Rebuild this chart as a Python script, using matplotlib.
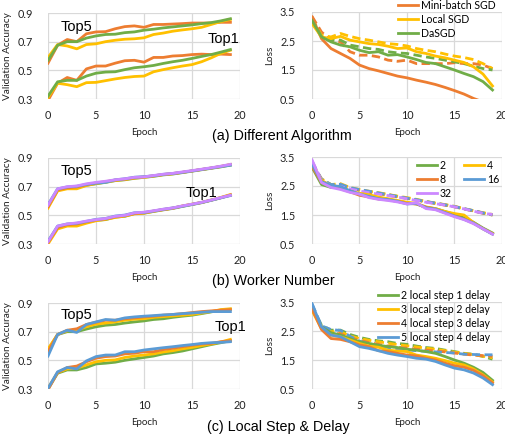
import matplotlib
matplotlib.use("Agg")
import matplotlib.pyplot as plt
from matplotlib.lines import Line2D

epochs = list(range(20))

# ---------- (a) Different Algorithm ----------
a_names = ["Mini-batch SGD", "Local SGD", "DaSGD"]
a_top5 = {
    "Mini-batch SGD": [0.55, 0.675, 0.715, 0.70, 0.755, 0.768, 0.77, 0.79, 0.805, 0.81, 0.80, 0.82, 0.82, 0.823, 0.826, 0.83, 0.83, 0.83, 0.835, 0.835],
    "Local SGD": [0.59, 0.68, 0.67, 0.65, 0.68, 0.685, 0.70, 0.71, 0.717, 0.72, 0.727, 0.75, 0.76, 0.773, 0.782, 0.79, 0.80, 0.82, 0.84, 0.855],
    "DaSGD": [0.57, 0.675, 0.70, 0.70, 0.725, 0.74, 0.75, 0.752, 0.763, 0.768, 0.78, 0.787, 0.796, 0.803, 0.81, 0.817, 0.826, 0.833, 0.845, 0.86],
}
a_top1 = {
    "Mini-batch SGD": [0.29, 0.41, 0.45, 0.43, 0.51, 0.53, 0.53, 0.55, 0.567, 0.57, 0.557, 0.59, 0.59, 0.60, 0.603, 0.61, 0.613, 0.61, 0.613, 0.61],
    "Local SGD": [0.31, 0.41, 0.40, 0.386, 0.414, 0.416, 0.428, 0.44, 0.45, 0.457, 0.46, 0.49, 0.505, 0.518, 0.53, 0.54, 0.56, 0.587, 0.618, 0.64],
    "DaSGD": [0.32, 0.42, 0.43, 0.43, 0.46, 0.48, 0.488, 0.49, 0.505, 0.518, 0.525, 0.534, 0.548, 0.56, 0.57, 0.583, 0.597, 0.61, 0.627, 0.645],
}
a_train = {
    "Mini-batch SGD": [3.33, 2.58, 2.24, 2.07, 1.90, 1.67, 1.55, 1.47, 1.38, 1.29, 1.23, 1.15, 1.08, 1.00, 0.90, 0.79, 0.67, 0.52, 0.40, 0.30],
    "Local SGD": [3.10, 2.64, 2.58, 2.66, 2.53, 2.47, 2.41, 2.38, 2.32, 2.24, 2.26, 2.13, 2.07, 1.98, 1.92, 1.84, 1.76, 1.61, 1.36, 0.95],
    "DaSGD": [3.21, 2.64, 2.47, 2.36, 2.30, 2.18, 2.10, 2.13, 2.01, 2.03, 1.95, 1.86, 1.76, 1.72, 1.61, 1.50, 1.38, 1.27, 1.10, 0.81],
}
a_val = {
    "Mini-batch SGD": [3.35, 2.81, 2.53, 2.47, 2.13, 2.01, 2.01, 1.95, 1.84, 1.80, 1.84, 1.72, 1.72, 1.72, 1.72, 1.75, 1.72, 1.72, 1.67, 1.55],
    "Local SGD": [3.27, 2.70, 2.64, 2.76, 2.66, 2.58, 2.53, 2.47, 2.41, 2.38, 2.33, 2.24, 2.18, 2.13, 2.05, 1.98, 1.93, 1.86, 1.72, 1.55],
    "DaSGD": [3.27, 2.64, 2.55, 2.53, 2.36, 2.30, 2.24, 2.21, 2.13, 2.09, 2.07, 2.01, 1.95, 1.90, 1.84, 1.78, 1.72, 1.63, 1.55, 1.50],
}
a_colors = {"Mini-batch SGD": "#ED7D31", "Local SGD": "#FFC000", "DaSGD": "#70AD47"}

# ---------- (b) Worker Number ----------
b_names = ["2", "4", "8", "16", "32"]
b_top5 = {
    "2": [0.56, 0.675, 0.69, 0.695, 0.71, 0.72, 0.73, 0.742, 0.748, 0.758, 0.765, 0.772, 0.782, 0.788, 0.798, 0.808, 0.818, 0.828, 0.838, 0.85],
    "4": [0.55, 0.67, 0.685, 0.685, 0.708, 0.722, 0.732, 0.743, 0.75, 0.76, 0.765, 0.774, 0.784, 0.79, 0.80, 0.81, 0.82, 0.83, 0.84, 0.855],
    "8": [0.56, 0.678, 0.692, 0.698, 0.714, 0.726, 0.735, 0.746, 0.752, 0.762, 0.768, 0.776, 0.785, 0.792, 0.80, 0.81, 0.82, 0.83, 0.842, 0.853],
    "16": [0.575, 0.685, 0.698, 0.703, 0.716, 0.725, 0.73, 0.748, 0.755, 0.766, 0.77, 0.776, 0.786, 0.792, 0.80, 0.81, 0.82, 0.83, 0.84, 0.85],
    "32": [0.57, 0.685, 0.70, 0.705, 0.72, 0.73, 0.738, 0.748, 0.755, 0.765, 0.768, 0.778, 0.787, 0.793, 0.803, 0.812, 0.822, 0.832, 0.843, 0.856],
}
b_top1 = {
    "2": [0.31, 0.42, 0.435, 0.44, 0.452, 0.465, 0.47, 0.488, 0.493, 0.512, 0.515, 0.527, 0.538, 0.548, 0.562, 0.575, 0.588, 0.605, 0.622, 0.64],
    "4": [0.30, 0.405, 0.425, 0.425, 0.445, 0.462, 0.472, 0.485, 0.495, 0.51, 0.515, 0.528, 0.54, 0.55, 0.565, 0.578, 0.59, 0.607, 0.625, 0.645],
    "8": [0.31, 0.415, 0.435, 0.44, 0.455, 0.468, 0.475, 0.49, 0.498, 0.513, 0.518, 0.53, 0.54, 0.55, 0.565, 0.577, 0.59, 0.606, 0.623, 0.642],
    "16": [0.32, 0.425, 0.44, 0.445, 0.458, 0.472, 0.478, 0.495, 0.502, 0.518, 0.52, 0.53, 0.542, 0.552, 0.563, 0.576, 0.59, 0.605, 0.622, 0.638],
    "32": [0.315, 0.425, 0.44, 0.447, 0.46, 0.47, 0.478, 0.493, 0.50, 0.517, 0.522, 0.532, 0.543, 0.552, 0.566, 0.578, 0.591, 0.607, 0.624, 0.64],
}
b_train = {
    "2": [3.15, 2.55, 2.45, 2.45, 2.33, 2.22, 2.16, 2.08, 2.04, 1.98, 1.92, 1.88, 1.76, 1.72, 1.62, 1.52, 1.40, 1.25, 1.05, 0.88],
    "4": [3.20, 2.70, 2.50, 2.40, 2.30, 2.25, 2.20, 2.12, 2.06, 2.00, 1.94, 1.90, 1.78, 1.72, 1.62, 1.55, 1.50, 1.24, 1.02, 0.86],
    "8": [3.18, 2.62, 2.48, 2.42, 2.30, 2.18, 2.12, 2.05, 2.02, 1.97, 1.90, 1.88, 1.77, 1.70, 1.58, 1.47, 1.36, 1.22, 1.03, 0.85],
    "16": [3.25, 2.65, 2.52, 2.48, 2.33, 2.22, 2.14, 2.06, 2.03, 1.97, 1.88, 1.90, 1.75, 1.70, 1.58, 1.46, 1.35, 1.22, 1.02, 0.84],
    "32": [3.40, 2.62, 2.45, 2.38, 2.28, 2.22, 2.10, 2.04, 2.00, 1.95, 1.88, 1.92, 1.72, 1.68, 1.56, 1.44, 1.34, 1.20, 1.02, 0.84],
}
b_val = {
    "2": [3.30, 2.72, 2.55, 2.52, 2.42, 2.36, 2.30, 2.25, 2.20, 2.14, 2.08, 2.02, 1.96, 1.90, 1.85, 1.79, 1.71, 1.64, 1.57, 1.50],
    "4": [3.28, 2.75, 2.55, 2.58, 2.45, 2.38, 2.32, 2.27, 2.21, 2.15, 2.10, 2.04, 1.97, 1.91, 1.86, 1.80, 1.72, 1.65, 1.58, 1.52],
    "8": [3.30, 2.72, 2.52, 2.53, 2.42, 2.35, 2.28, 2.24, 2.18, 2.12, 2.07, 2.01, 1.95, 1.90, 1.84, 1.78, 1.71, 1.64, 1.56, 1.50],
    "16": [3.32, 2.74, 2.55, 2.56, 2.44, 2.38, 2.32, 2.26, 2.20, 2.14, 2.08, 2.03, 1.96, 1.91, 1.85, 1.79, 1.72, 1.65, 1.57, 1.51],
    "32": [3.38, 2.70, 2.50, 2.48, 2.40, 2.33, 2.27, 2.22, 2.17, 2.12, 2.06, 2.00, 1.94, 1.89, 1.84, 1.78, 1.71, 1.63, 1.56, 1.52],
}
b_colors = {"2": "#70AD47", "4": "#FFC000", "8": "#ED7D31", "16": "#5B9BD5", "32": "#CC88FF"}

# ---------- (c) Local Step & Delay ----------
c_names = ["2 local step 1 delay", "3 local step 2 delay", "4 local step 3 delay", "5 local step 4 delay"]
c_top5 = {
    c_names[0]: [0.57, 0.68, 0.70, 0.70, 0.718, 0.734, 0.745, 0.75, 0.76, 0.768, 0.775, 0.785, 0.79, 0.80, 0.808, 0.815, 0.826, 0.838, 0.85, 0.856],
    c_names[1]: [0.58, 0.68, 0.706, 0.71, 0.734, 0.752, 0.76, 0.768, 0.78, 0.787, 0.79, 0.80, 0.805, 0.81, 0.815, 0.82, 0.83, 0.84, 0.854, 0.86],
    c_names[2]: [0.56, 0.68, 0.71, 0.72, 0.75, 0.766, 0.78, 0.78, 0.79, 0.796, 0.803, 0.808, 0.815, 0.82, 0.826, 0.833, 0.84, 0.845, 0.85, 0.854],
    c_names[3]: [0.53, 0.68, 0.71, 0.695, 0.75, 0.768, 0.785, 0.78, 0.796, 0.803, 0.808, 0.812, 0.817, 0.82, 0.826, 0.83, 0.835, 0.84, 0.84, 0.84],
}
c_top1 = {
    c_names[0]: [0.30, 0.41, 0.433, 0.433, 0.45, 0.475, 0.48, 0.487, 0.50, 0.51, 0.52, 0.53, 0.545, 0.554, 0.565, 0.58, 0.595, 0.61, 0.623, 0.637],
    c_names[1]: [0.305, 0.415, 0.44, 0.445, 0.468, 0.49, 0.50, 0.503, 0.52, 0.53, 0.537, 0.545, 0.558, 0.567, 0.58, 0.59, 0.603, 0.614, 0.628, 0.646],
    c_names[2]: [0.295, 0.415, 0.45, 0.46, 0.49, 0.515, 0.526, 0.53, 0.545, 0.55, 0.56, 0.56, 0.575, 0.584, 0.595, 0.605, 0.614, 0.618, 0.63, 0.637],
    c_names[3]: [0.305, 0.42, 0.45, 0.44, 0.496, 0.526, 0.537, 0.537, 0.56, 0.56, 0.572, 0.58, 0.588, 0.595, 0.603, 0.61, 0.618, 0.623, 0.625, 0.63],
}
c_train = {
    c_names[0]: [3.33, 2.64, 2.44, 2.36, 2.24, 2.13, 2.07, 2.01, 1.96, 1.93, 1.87, 1.84, 1.79, 1.73, 1.62, 1.50, 1.39, 1.25, 1.07, 0.80],
    c_names[1]: [3.21, 2.58, 2.36, 2.30, 2.19, 2.07, 1.98, 1.94, 1.84, 1.81, 1.79, 1.67, 1.62, 1.56, 1.48, 1.39, 1.33, 1.19, 0.99, 0.74],
    c_names[2]: [3.27, 2.55, 2.24, 2.21, 2.13, 2.02, 1.96, 1.82, 1.79, 1.73, 1.67, 1.64, 1.56, 1.50, 1.39, 1.30, 1.25, 1.14, 0.96, 0.71],
    c_names[3]: [3.44, 2.64, 2.36, 2.30, 2.13, 1.96, 1.90, 1.82, 1.73, 1.67, 1.62, 1.56, 1.53, 1.45, 1.33, 1.22, 1.16, 1.05, 0.88, 0.65],
}
c_val = {
    c_names[0]: [3.33, 2.70, 2.53, 2.53, 2.38, 2.28, 2.21, 2.16, 2.13, 2.07, 2.04, 1.98, 1.93, 1.90, 1.84, 1.79, 1.73, 1.70, 1.62, 1.53],
    c_names[1]: [3.25, 2.65, 2.48, 2.47, 2.33, 2.24, 2.18, 2.13, 2.08, 2.03, 1.99, 1.95, 1.91, 1.87, 1.82, 1.77, 1.73, 1.68, 1.63, 1.58],
    c_names[2]: [3.27, 2.60, 2.43, 2.40, 2.27, 2.18, 2.10, 2.04, 1.98, 1.94, 1.91, 1.87, 1.84, 1.81, 1.78, 1.74, 1.70, 1.67, 1.65, 1.63],
    c_names[3]: [3.44, 2.68, 2.55, 2.52, 2.32, 2.15, 2.06, 1.99, 1.93, 1.89, 1.85, 1.82, 1.80, 1.78, 1.76, 1.74, 1.70, 1.69, 1.68, 1.68],
}
c_colors = dict(zip(c_names, ["#70AD47", "#FFC000", "#ED7D31", "#5B9BD5"]))

acc_ticks = [0.3, 0.5, 0.7, 0.9]
loss_ticks = [0.5, 1.5, 2.5, 3.5]
x_ticks = [0, 5, 10, 15, 20]
captions = ["(a) Different Algorithm", "(b) Worker Number", "(c) Local Step & Delay"]

W, H = 506, 436
fig = plt.figure(figsize=(W / 100, H / 100), dpi=100)

TICKF = "Lato"
LW = 2.0
DASH = (3.0, 1.6)


def px_axes(x0, y0, x1, y1):
    return fig.add_axes([x0 / W, 1 - y1 / H, (x1 - x0) / W, (y1 - y0) / H])


def style(ax, ylim, yticks, ylabel, ypad):
    ax.set_xlim(0, 20)
    ax.set_ylim(*ylim)
    ax.set_xticks(x_ticks)
    ax.set_yticks(yticks)
    ax.set_yticklabels([f"{t:.1f}" for t in yticks])
    ax.grid(True, color="#D9D9D9", lw=0.9)
    ax.set_axisbelow(True)
    for s in ax.spines.values():
        s.set_visible(False)
    ax.tick_params(length=0, labelsize=7.8, pad=ypad, labelcolor="#222222")
    ax.tick_params(axis="x", pad=8)
    for lab in ax.get_xticklabels() + ax.get_yticklabels():
        lab.set_fontfamily(TICKF)
    ax.set_xlabel("Epoch", fontsize=7, fontfamily=TICKF, labelpad=5, color="#222222")
    ax.set_ylabel(ylabel, fontsize=7.2, fontfamily=TICKF, labelpad=4, color="#222222")


rows = [(13, 99), (158, 244), (303, 389)]
acc_sets = [(a_names, a_top5, a_top1, a_colors), (b_names, b_top5, b_top1, b_colors), (c_names, c_top5, c_top1, c_colors)]
loss_sets = [(a_names, a_train, a_val, a_colors), (b_names, b_train, b_val, b_colors), (c_names, c_train, c_val, c_colors)]
top5_pos = [(3.0, 0.80), (3.0, 0.81), (3.0, 0.815)]
top1_pos = [(18.3, 0.72), (16.0, 0.655), (19.0, 0.735)]
cap_pos = [(212, 136), (212, 281), (207, 427)]

for r, (yt, yb) in enumerate(rows):
    axl = px_axes(48, yt, 240, yb)
    names, t5, t1, cols = acc_sets[r]
    for n in names:
        axl.plot(epochs, t5[n], color=cols[n], lw=LW, solid_joinstyle="round")
        axl.plot(epochs, t1[n], color=cols[n], lw=LW, solid_joinstyle="round")
    style(axl, (0.3, 0.9), acc_ticks, "Validation Accuracy", 11)
    axl.text(*top5_pos[r], "Top5", fontsize=10.5, fontfamily="Liberation Sans", ha="center", va="center")
    axl.text(*top1_pos[r], "Top1", fontsize=10.5, fontfamily="Liberation Sans", ha="center", va="center")

    axr = px_axes(312, yt - 1, 502, yb)
    names, tr, va, cols = loss_sets[r]
    for n in names:
        axr.plot(epochs, va[n], color=cols[n], lw=LW, dashes=DASH)
    for n in names:
        axr.plot(epochs, tr[n], color=cols[n], lw=LW, solid_joinstyle="round")
    style(axr, (0.5, 3.5), loss_ticks, "Loss", 12)

    fig.text(cap_pos[r][0] / W, 1 - cap_pos[r][1] / H, captions[r], fontsize=10.3,
             fontfamily="Liberation Sans", ha="left", va="center")


def add_legend(names, cols, x, y, ncol=1, order=None):
    handles = [Line2D([], [], color=cols[n], lw=LW) for n in names]
    labels = list(names)
    if order is not None:
        handles = [handles[i] for i in order]
        labels = [labels[i] for i in order]
    fig.legend(handles, labels, loc="upper left", bbox_to_anchor=(x / W, 1 - y / H),
               frameon=False, ncol=ncol, prop={"family": TICKF, "size": 7.6},
               handlelength=1.9, handletextpad=0.25, labelspacing=0.27,
               borderpad=0, borderaxespad=0, columnspacing=1.2)


add_legend(a_names, a_colors, 398, 0)
add_legend(b_names, b_colors, 417, 160, ncol=2, order=[0, 2, 4, 1, 3])
add_legend(c_names, c_colors, 378, 290)

fig.savefig("out.png", dpi=100)
